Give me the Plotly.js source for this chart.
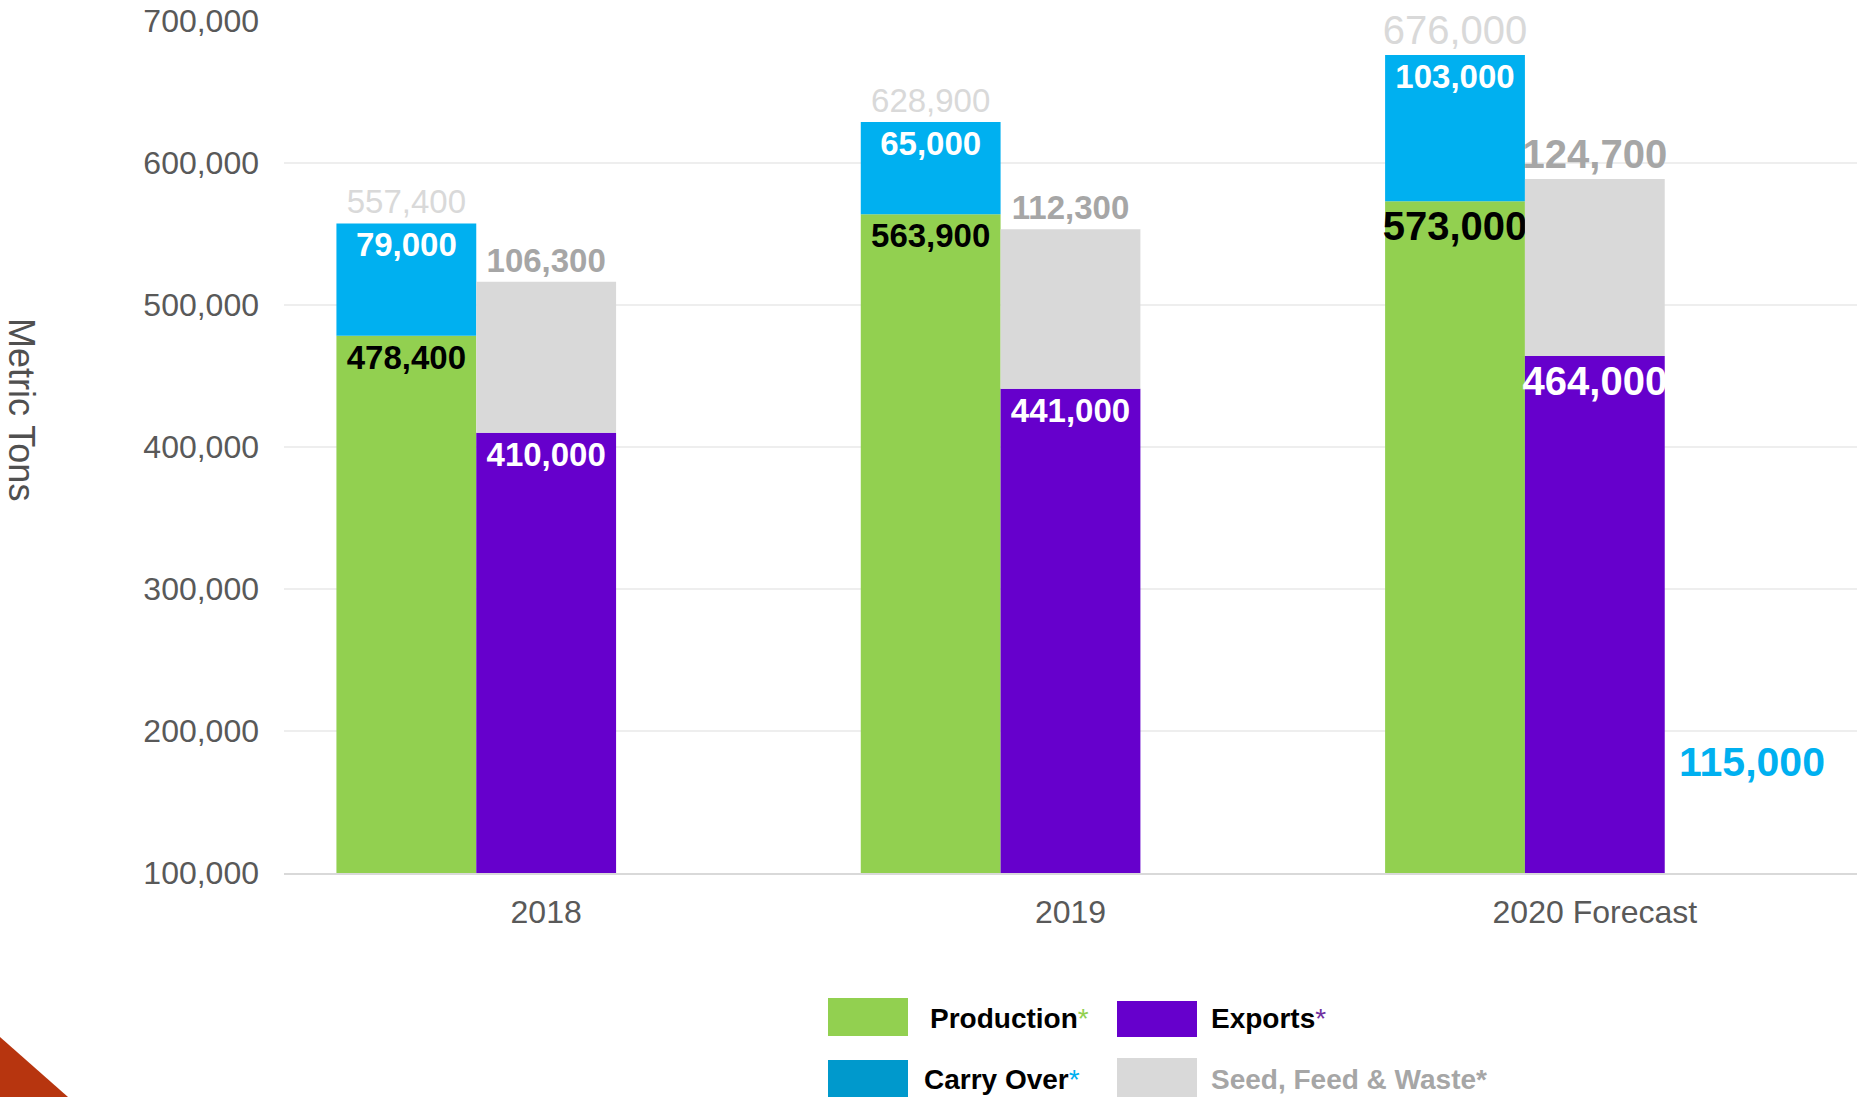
<!DOCTYPE html>
<html>
<head>
<meta charset="utf-8">
<script src="https://cdn.plot.ly/plotly-3.0.1.min.js"></script>
<style>
  html, body { margin: 0; padding: 0; background: #ffffff; }
  #chart { width: 1857px; height: 1097px; }
</style>
</head>
<body>
<div id="chart"></div>
<script>
// ---- data ----
const categories = ['2018', '2019', '2020 Forecast'];
const production = [478400, 563900, 573000];
const carryOver = [79000, 65000, 103000];
const exportsVals = [410000, 441000, 464000];
const seedFeedWaste = [106300, 112300, 124700];
const endingStocks = [null, null, 115000];
const yTickVals = [100000, 200000, 300000, 400000, 500000, 600000, 700000];

// ---- styles ----
const W = 1857, H = 1097;
const M = { l: 284, r: 0, t: 21, b: 224 };
const C = {
  green: '#92d050', blue: '#00b0f0', blueLegend: '#0099cc',
  purple: '#6600cc', gray: '#d9d9d9', grayText: '#a6a6a6',
  axisText: '#595959'
};
const labelFont = 'Liberation Sans, Arial, sans-serif';
const fmt = v => v.toLocaleString('en-US');

const totals = production.map((p, i) => p + carryOver[i]);

function barTrace(name, y, base, group, color, textColor, sizes, pos, bold) {
  return {
    type: 'bar', name: name, x: categories, y: y, base: base,
    offsetgroup: group, marker: { color: color, line: { width: 0 } },
    text: y.map(v => v == null ? '' : (bold ? '<b>' + fmt(v) + '</b>' : fmt(v))),
    textposition: pos, insidetextanchor: 'end', constraintext: 'none', textangle: 0,
    textfont: { family: labelFont, color: textColor, size: sizes },
    cliponaxis: false, hoverinfo: 'skip', showlegend: false
  };
}

const traces = [
  barTrace('Production', production, undefined, 'a', C.green, '#000000', [33, 33, 40], 'inside', true),
  barTrace('Carry Over', carryOver, production, 'a', C.blue, '#ffffff', [33, 33, 33], 'inside', true),
  barTrace('Total', totals, undefined, 'a', 'rgba(0,0,0,0)', C.gray, [33, 33, 40], 'outside', false),
  barTrace('Exports', exportsVals, undefined, 'b', C.purple, '#ffffff', [33, 33, 40], 'inside', true),
  barTrace('Seed, Feed & Waste', seedFeedWaste, exportsVals, 'b', C.gray, C.grayText, [33, 33, 40], 'outside', true),
  {
    type: 'bar', name: 'Ending', x: categories, y: endingStocks.map(v => v == null ? 0 : v),
    offsetgroup: 'c', marker: { color: 'rgba(0,0,0,0)' }, hoverinfo: 'skip', showlegend: false
  }
];

// pixel -> paper helpers (for decorations/legend only)
const pw = W - M.l - M.r, ph = H - M.t - M.b;
const px = x => (x - M.l) / pw;
const py = y => (H - M.b - y) / ph;

const shapes = [];
const annotations = [];

// custom legend
const legendItems = [
  { sw: [828, 998, 908, 1036], color: C.green, tx: 928, ty: 1018, label: '<b>Production</b><span style="color:#92d050">*</span>', tcolor: '#000000' },
  { sw: [1117, 1001, 1197, 1037], color: C.purple, tx: 1209, ty: 1019, label: '<b>Exports</b><span style="color:#7030a0">*</span>', tcolor: '#000000' },
  { sw: [828, 1060, 908, 1097], color: C.blueLegend, tx: 922, ty: 1079, label: '<b>Carry Over</b><span style="color:#00b0f0">*</span>', tcolor: '#000000' },
  { sw: [1117, 1058, 1197, 1097], color: C.gray, tx: 1209, ty: 1079, label: '<b>Seed, Feed &amp; Waste*</b>', tcolor: C.grayText }
];
legendItems.forEach(it => {
  shapes.push({ type: 'rect', xref: 'paper', yref: 'paper',
    x0: px(it.sw[0]), x1: px(it.sw[2]), y0: py(it.sw[3]), y1: py(it.sw[1]),
    fillcolor: it.color, line: { width: 0 } });
  annotations.push({ xref: 'paper', yref: 'paper', x: px(it.tx), y: py(it.ty),
    xanchor: 'left', yanchor: 'middle', showarrow: false, text: it.label,
    font: { family: labelFont, size: 28, color: it.tcolor } });
});

// red corner triangle
shapes.push({ type: 'path', xref: 'paper', yref: 'paper',
  path: `M ${px(0)} ${py(1037)} L ${px(0)} ${py(1097)} L ${px(68)} ${py(1097)} Z`,
  fillcolor: '#b7350f', line: { width: 0 } });

// y axis title (rotated clockwise)
annotations.push({ xref: 'paper', yref: 'paper', x: px(22), y: py(409),
  xanchor: 'center', yanchor: 'middle', showarrow: false, textangle: 90,
  text: 'Metric Tons', font: { family: labelFont, size: 36, color: '#505050' } });

// ending stock label
annotations.push({ xref: 'x', yref: 'y', x: categories[2], y: endingStocks[2],
  xanchor: 'center', yanchor: 'middle', xshift: 157, yshift: 90, showarrow: false,
  text: '<b>' + fmt(endingStocks[2]) + '</b>',
  font: { family: labelFont, size: 41, color: C.blue } });

const layout = {
  width: W, height: H, margin: M,
  paper_bgcolor: '#ffffff', plot_bgcolor: '#ffffff',
  barmode: 'group', bargap: 0.2, bargroupgap: 0,
  showlegend: false,
  xaxis: {
    type: 'category', showgrid: false, showline: true, linecolor: '#d9d9d9', linewidth: 2,
    ticks: '', ticklabelstandoff: 10,
    tickfont: { family: labelFont, size: 32, color: C.axisText }
  },
  yaxis: {
    range: [100000, 700000], tickvals: yTickVals, tickformat: ',d',
    showgrid: true, gridcolor: '#eeeeee', gridwidth: 2, zeroline: false, showline: false,
    ticks: '', ticklabelstandoff: 24,
    tickfont: { family: labelFont, size: 32, color: C.axisText }
  },
  shapes: shapes, annotations: annotations
};

Plotly.newPlot('chart', traces, layout, { displayModeBar: false, staticPlot: true });
</script>
</body>
</html>
